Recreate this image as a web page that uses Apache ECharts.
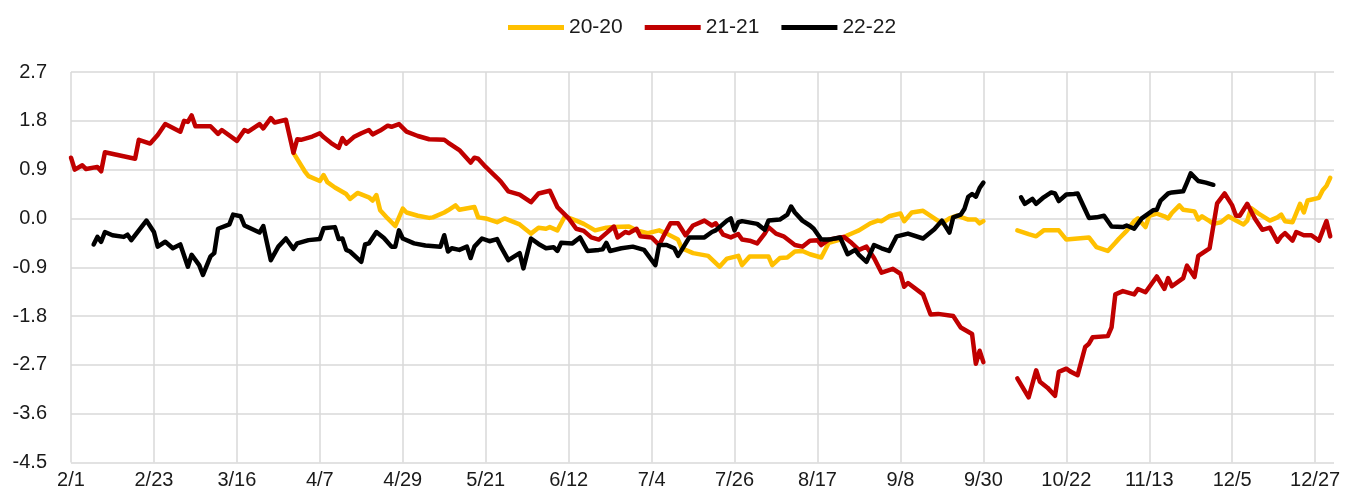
<!DOCTYPE html>
<html><head><meta charset="utf-8">
<script src="https://cdn.jsdelivr.net/npm/echarts@6/dist/echarts.min.js"></script>
<style>html,body{margin:0;padding:0;background:#fff}#c{width:1349px;height:497px}</style>
</head><body><div id="c"></div>
<script>
const seriesNames = ["20-20", "21-21", "22-22"];
const seriesColors = ["#FFC000", "#C00000", "#000000"];

// [date, value]; null marks the holiday break
const s2020 = [["3/31",1.21],["4/3",0.87],["4/4",0.78],["4/7",0.69],["4/8",0.8],["4/9",0.67],["4/11",0.57],["4/14",0.45],["4/15",0.36],["4/17",0.47],["4/20",0.39],["4/21",0.33],["4/22",0.43],["4/23",0.15],["4/25",0.0],["4/27",-0.14],["4/29",0.18],["4/30",0.11],["5/3",0.05],["5/6",0.01],["5/7",0.02],["5/10",0.11],["5/11",0.15],["5/13",0.24],["5/14",0.16],["5/18",0.21],["5/19",0.02],["5/21",0.0],["5/24",-0.07],["5/26",0.0],["5/30",-0.11],["6/2",-0.28],["6/4",-0.17],["6/6",-0.19],["6/7",-0.16],["6/9",-0.22],["6/11",0.04],["6/14",-0.04],["6/16",-0.1],["6/19",-0.22],["6/22",-0.17],["6/24",-0.16],["6/28",-0.15],["6/30",-0.22],["7/3",-0.27],["7/6",-0.22],["7/8",-0.28],["7/11",-0.39],["7/12",-0.55],["7/15",-0.64],["7/19",-0.69],["7/22",-0.89],["7/24",-0.74],["7/27",-0.69],["7/28",-0.86],["7/30",-0.7],["8/4",-0.7],["8/5",-0.86],["8/7",-0.73],["8/9",-0.72],["8/11",-0.61],["8/13",-0.6],["8/15",-0.66],["8/18",-0.72],["8/20",-0.45],["8/23",-0.39],["8/25",-0.31],["8/27",-0.25],["8/28",-0.22],["8/31",-0.09],["9/2",-0.04],["9/3",-0.05],["9/5",0.04],["9/8",0.09],["9/9",-0.05],["9/11",0.11],["9/14",0.14],["9/17",0.0],["9/19",-0.09],["9/21",0.0],["9/23",0.05],["9/26",-0.02],["9/28",-0.02],["9/29",-0.09],["9/30",-0.05],["10/1",null],["10/9",-0.22],["10/12",-0.29],["10/14",-0.33],["10/16",-0.22],["10/20",-0.22],["10/22",-0.39],["10/25",-0.37],["10/28",-0.35],["10/30",-0.53],["11/2",-0.6],["11/4",-0.45],["11/5",-0.37],["11/7",-0.23],["11/9",-0.05],["11/10",0.0],["11/12",-0.16],["11/13",0.05],["11/15",0.09],["11/17",0.04],["11/18",0.0],["11/19",0.1],["11/21",0.24],["11/22",0.16],["11/25",0.13],["11/26",-0.02],["11/27",0.04],["11/29",-0.05],["11/30",-0.1],["12/2",-0.07],["12/4",0.04],["12/6",-0.04],["12/8",-0.11],["12/9",-0.04],["12/10",0.19],["12/12",0.09],["12/15",-0.04],["12/17",0.02],["12/18",0.07],["12/19",-0.05],["12/21",-0.07],["12/23",0.27],["12/24",0.11],["12/25",0.33],["12/28",0.38],["12/29",0.52],["12/30",0.6],["12/31",0.75]];

const s2021 = [["2/1",1.12],["2/2",0.9],["2/4",0.98],["2/5",0.91],["2/8",0.95],["2/9",0.87],["2/10",1.22],["2/18",1.1],["2/19",1.45],["2/22",1.38],["2/24",1.54],["2/26",1.74],["3/1",1.6],["3/2",1.8],["3/3",1.78],["3/4",1.9],["3/5",1.7],["3/9",1.7],["3/11",1.56],["3/12",1.63],["3/16",1.43],["3/18",1.63],["3/19",1.6],["3/22",1.74],["3/23",1.66],["3/25",1.85],["3/26",1.77],["3/29",1.82],["3/31",1.21],["4/1",1.46],["4/2",1.45],["4/5",1.51],["4/7",1.57],["4/8",1.5],["4/10",1.39],["4/12",1.3],["4/13",1.48],["4/14",1.38],["4/16",1.5],["4/18",1.57],["4/20",1.63],["4/21",1.55],["4/23",1.62],["4/25",1.71],["4/26",1.69],["4/28",1.74],["4/30",1.6],["5/3",1.52],["5/6",1.46],["5/10",1.45],["5/11",1.4],["5/14",1.26],["5/17",1.03],["5/18",1.12],["5/19",1.1],["5/21",0.95],["5/24",0.75],["5/25",0.68],["5/27",0.5],["5/30",0.44],["6/2",0.3],["6/4",0.46],["6/7",0.51],["6/9",0.21],["6/12",0.0],["6/14",-0.19],["6/16",-0.23],["6/18",-0.35],["6/20",-0.39],["6/22",-0.27],["6/24",-0.15],["6/25",-0.35],["6/27",-0.25],["6/28",-0.27],["6/30",-0.19],["7/1",-0.33],["7/4",-0.35],["7/6",-0.49],["7/7",-0.35],["7/9",-0.09],["7/11",-0.09],["7/13",-0.31],["7/15",-0.13],["7/18",-0.04],["7/20",-0.13],["7/21",-0.09],["7/23",-0.3],["7/25",-0.35],["7/27",-0.29],["7/28",-0.39],["7/30",-0.41],["8/1",-0.46],["8/3",-0.28],["8/4",-0.16],["8/6",-0.28],["8/8",-0.33],["8/11",-0.49],["8/13",-0.52],["8/15",-0.41],["8/17",-0.4],["8/18",-0.49],["8/20",-0.39],["8/23",-0.35],["8/24",-0.34],["8/26",-0.45],["8/28",-0.58],["8/30",-0.52],["9/1",-0.73],["9/3",-1.0],["9/6",-0.93],["9/8",-1.02],["9/9",-1.26],["9/10",-1.19],["9/14",-1.4],["9/16",-1.77],["9/18",-1.76],["9/22",-1.8],["9/24",-2.01],["9/27",-2.13],["9/28",-2.68],["9/29",-2.44],["9/30",-2.65],["10/1",null],["10/9",-2.95],["10/12",-3.3],["10/14",-2.8],["10/15",-3.01],["10/17",-3.12],["10/19",-3.27],["10/20",-2.83],["10/22",-2.77],["10/23",-2.82],["10/25",-2.89],["10/27",-2.37],["10/28",-2.31],["10/29",-2.19],["11/2",-2.17],["11/3",-2.01],["11/4",-1.4],["11/6",-1.34],["11/9",-1.4],["11/10",-1.3],["11/12",-1.36],["11/15",-1.07],["11/17",-1.3],["11/18",-1.1],["11/19",-1.25],["11/22",-1.1],["11/23",-0.87],["11/25",-1.08],["11/26",-0.69],["11/29",-0.55],["12/1",0.28],["12/3",0.46],["12/5",0.24],["12/6",0.05],["12/7",0.05],["12/9",0.27],["12/11",0.0],["12/13",-0.21],["12/15",-0.17],["12/17",-0.43],["12/18",-0.33],["12/19",-0.27],["12/21",-0.41],["12/22",-0.25],["12/24",-0.31],["12/26",-0.31],["12/28",-0.41],["12/30",-0.05],["12/31",-0.33]];

const s2022 = [["2/7",-0.48],["2/8",-0.34],["2/9",-0.43],["2/10",-0.25],["2/12",-0.31],["2/15",-0.34],["2/16",-0.3],["2/17",-0.4],["2/19",-0.22],["2/21",-0.04],["2/23",-0.25],["2/24",-0.52],["2/26",-0.43],["2/28",-0.55],["3/1",-0.48],["3/3",-0.89],["3/4",-0.67],["3/6",-0.86],["3/7",-1.04],["3/9",-0.7],["3/10",-0.64],["3/11",-0.19],["3/14",-0.11],["3/15",0.07],["3/17",0.04],["3/18",-0.13],["3/22",-0.26],["3/23",-0.14],["3/25",-0.77],["3/27",-0.52],["3/29",-0.37],["3/31",-0.56],["4/1",-0.46],["4/4",-0.4],["4/7",-0.38],["4/8",-0.18],["4/11",-0.16],["4/12",-0.38],["4/13",-0.37],["4/14",-0.58],["4/15",-0.61],["4/18",-0.8],["4/19",-0.48],["4/20",-0.46],["4/22",-0.25],["4/24",-0.36],["4/26",-0.52],["4/27",-0.52],["4/28",-0.22],["4/29",-0.37],["5/2",-0.46],["5/5",-0.5],["5/9",-0.52],["5/10",-0.31],["5/11",-0.61],["5/12",-0.55],["5/14",-0.58],["5/16",-0.52],["5/17",-0.73],["5/18",-0.52],["5/20",-0.37],["5/22",-0.42],["5/24",-0.38],["5/25",-0.52],["5/27",-0.77],["5/30",-0.64],["5/31",-0.92],["6/2",-0.37],["6/4",-0.47],["6/6",-0.55],["6/8",-0.53],["6/9",-0.6],["6/10",-0.45],["6/13",-0.46],["6/15",-0.35],["6/17",-0.6],["6/20",-0.58],["6/21",-0.57],["6/22",-0.45],["6/23",-0.6],["6/26",-0.55],["6/29",-0.52],["7/2",-0.58],["7/5",-0.86],["7/6",-0.49],["7/8",-0.49],["7/10",-0.55],["7/11",-0.69],["7/12",-0.58],["7/14",-0.35],["7/18",-0.35],["7/20",-0.25],["7/21",-0.22],["7/24",-0.04],["7/25",0.0],["7/26",-0.22],["7/27",-0.07],["7/28",-0.05],["8/1",-0.1],["8/3",-0.21],["8/4",-0.04],["8/7",-0.02],["8/9",0.07],["8/10",0.22],["8/11",0.11],["8/13",-0.04],["8/15",-0.13],["8/16",-0.19],["8/18",-0.39],["8/20",-0.39],["8/23",-0.35],["8/25",-0.66],["8/27",-0.58],["8/28",-0.67],["8/30",-0.8],["9/1",-0.49],["9/3",-0.55],["9/5",-0.6],["9/7",-0.33],["9/10",-0.28],["9/14",-0.37],["9/17",-0.2],["9/19",-0.04],["9/21",-0.26],["9/22",0.02],["9/24",0.07],["9/25",0.18],["9/26",0.4],["9/27",0.45],["9/28",0.4],["9/29",0.56],["9/30",0.66],["10/1",null],["10/10",0.39],["10/11",0.27],["10/13",0.36],["10/14",0.27],["10/16",0.39],["10/18",0.48],["10/19",0.46],["10/20",0.32],["10/22",0.44],["10/24",0.45],["10/25",0.46],["10/27",0.16],["10/28",0.01],["10/30",0.02],["11/1",0.05],["11/3",-0.15],["11/6",-0.16],["11/7",-0.13],["11/9",-0.19],["11/11",0.0],["11/14",0.15],["11/15",0.16],["11/16",0.33],["11/18",0.46],["11/19",0.48],["11/22",0.5],["11/23",0.66],["11/24",0.83],["11/26",0.69],["11/28",0.66],["11/30",0.62]];

const yMin = -4.5, yMax = 2.7, yStep = 0.9;

// calendar-day categories 2/1 ... 1/1 (leap-year calendar)
const categories = [];
(function () {
  const d = new Date(Date.UTC(2020, 1, 1));
  for (let i = 0; i < 336; i++) {
    categories.push((d.getUTCMonth() + 1) + '/' + d.getUTCDate());
    d.setUTCDate(d.getUTCDate() + 1);
  }
})();

const seriesData = [s2020, s2021, s2022];
const FONT = "'Liberation Sans', Arial, sans-serif";

const chart = echarts.init(document.getElementById('c'), null, { renderer: 'canvas' });
chart.setOption({
  animation: false,
  backgroundColor: '#ffffff',
  textStyle: { fontFamily: FONT },
  legend: {
    data: seriesNames,
    left: 503, top: 12,
    icon: 'rect', itemWidth: 56, itemHeight: 5, itemGap: 22,
    textStyle: { fontSize: 21, color: '#1a1a1a', fontFamily: FONT }
  },
  grid: { left: 71, right: 15, top: 72, bottom: 34.5, containLabel: false },
  xAxis: {
    type: 'category',
    data: categories,
    boundaryGap: false,
    axisLine: { show: false },
    axisTick: { show: false },
    axisLabel: {
      fontSize: 20, color: '#1a1a1a', margin: 8, fontFamily: FONT,
      interval: (idx) => idx % 22 === 0 && idx <= 330
    },
    splitLine: { show: true, interval: 21, lineStyle: { color: '#D9D9D9', width: 1.5 } }
  },
  yAxis: {
    type: 'value',
    min: yMin, max: yMax, interval: yStep,
    axisLine: { show: false },
    axisTick: { show: false },
    axisLabel: {
      fontSize: 20, color: '#1a1a1a', margin: 24, fontFamily: FONT,
      formatter: v => (Math.abs(v) < 1e-9 ? 0 : v).toFixed(1)
    },
    splitLine: { show: true, lineStyle: { color: '#D9D9D9', width: 1.5 } }
  },
  series: seriesNames.map((n, i) => ({
    name: n,
    type: 'line',
    data: seriesData[i],
    symbol: 'none',
    showSymbol: false,
    connectNulls: false,
    color: seriesColors[i],
    lineStyle: { width: 4.5, color: seriesColors[i], cap: 'round', join: 'round' },
    z: 2 + i
  }))
});
</script>
</body></html>
